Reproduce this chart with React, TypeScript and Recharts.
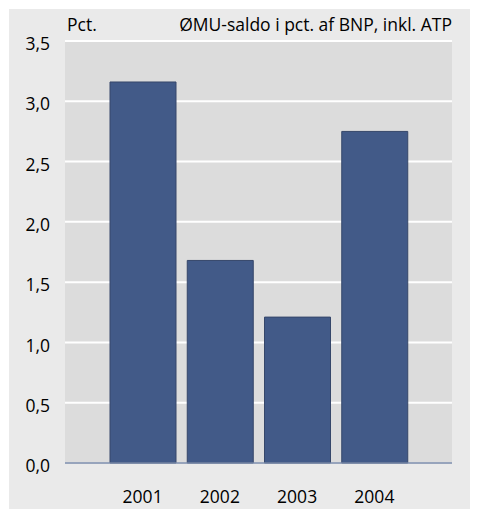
import { BarChart, Bar, XAxis, YAxis, CartesianGrid } from 'recharts';

const years = ['2001', '2002', '2003', '2004'];
const saldo = [3.16, 1.68, 1.21, 2.75];
const yTicks = [0, 0.5, 1, 1.5, 2, 2.5, 3, 3.5];

const data = years.map((year, i) => ({ year, saldo: saldo[i] }));

const font = '"Open Sans", sans-serif';
const fmt = (v: number) => v.toFixed(1).replace('.', ',');

export default function App() {
  return (
    <div
      style={{
        position: 'relative',
        marginLeft: 1,
        marginTop: 1,
        width: 461,
        height: 500,
        background: '#eaeaea',
        fontFamily: font,
        color: '#000',
      }}
    >
      <div style={{ position: 'absolute', left: 58, top: 3, fontSize: 17.5, lineHeight: '24px' }}>Pct.</div>
      <div style={{ position: 'absolute', right: 18, top: 3, fontSize: 17.5, lineHeight: '24px' }}>
        ØMU-saldo i pct. af BNP, inkl. ATP
      </div>
      <BarChart
        width={461}
        height={500}
        data={data}
        margin={{ top: 32, right: 18, bottom: 0, left: 0 }}
        barSize={66}
      >
        <CartesianGrid vertical={false} stroke="#ffffff" strokeWidth={2} fill="#dcdcdc" />
        <XAxis
          dataKey="year"
          height={46}
          padding={{ left: 39, right: 39 }}
          tickLine={false}
          tickSize={0}
          tickMargin={28}
          axisLine={{ stroke: '#7486a6', strokeWidth: 1.5 }}
          tick={{ fontSize: 17.5, fill: '#000', fontFamily: font }}
        />
        <YAxis
          width={56}
          domain={[0, 3.5]}
          ticks={yTicks}
          tickFormatter={fmt}
          axisLine={false}
          tickLine={false}
          tickSize={0}
          tickMargin={15}
          tick={{ fontSize: 17.5, fill: '#000', fontFamily: font, dy: 3 }}
        />
        <Bar dataKey="saldo" fill="#425a88" stroke="#36476a" strokeWidth={1} isAnimationActive={false} />
      </BarChart>
    </div>
  );
}
